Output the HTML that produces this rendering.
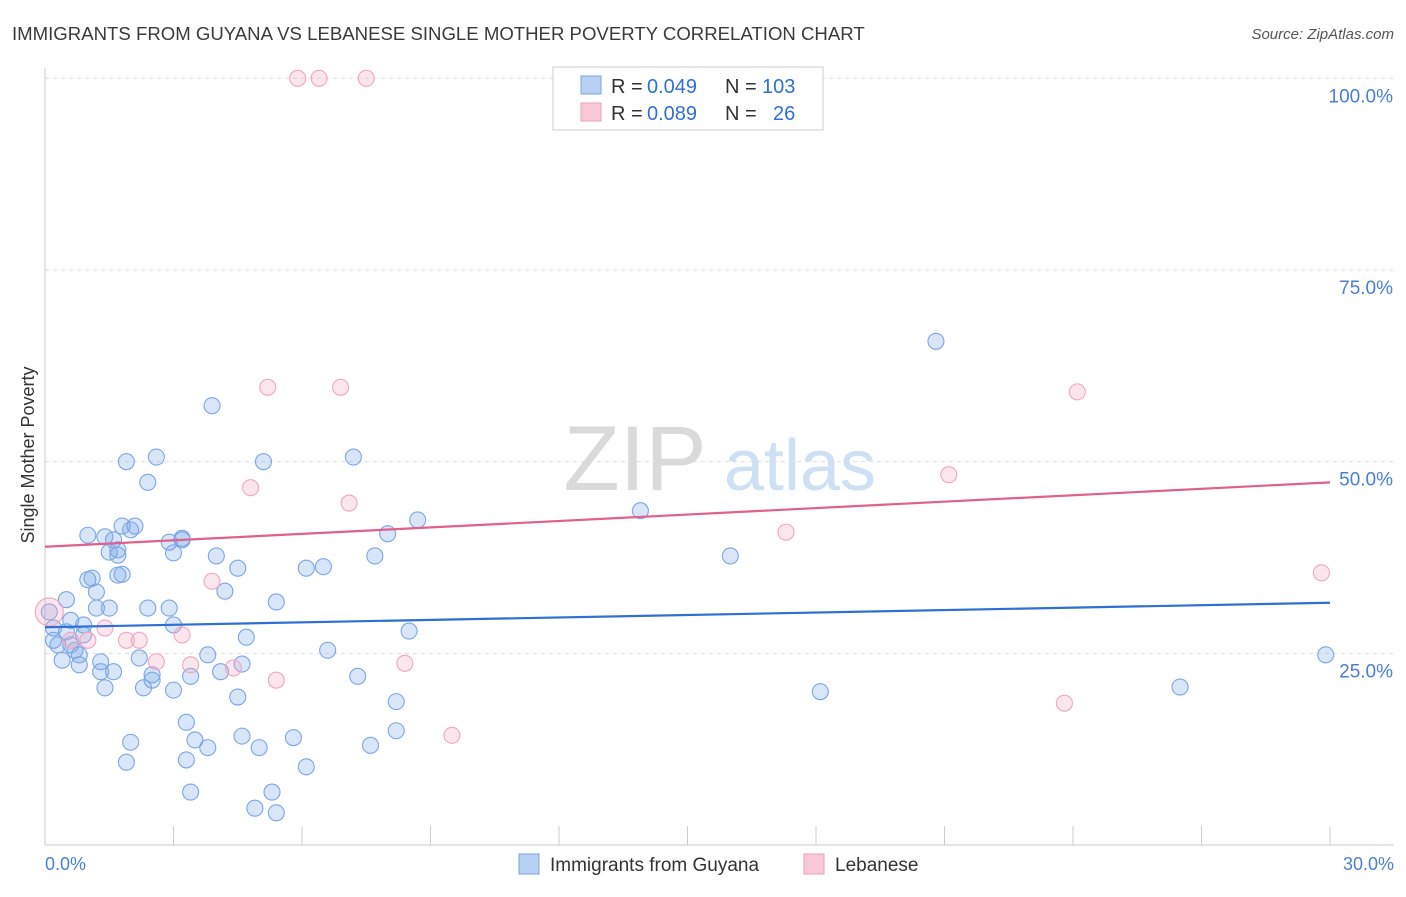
<!DOCTYPE html>
<html><head><meta charset="utf-8"><style>
body{margin:0;background:#fff;font-family:"Liberation Sans",sans-serif}
svg text{font-family:"Liberation Sans",sans-serif}
</style></head><body>
<svg id="chart" width="1406" height="892" viewBox="0 0 1406 892" xmlns="http://www.w3.org/2000/svg">
<text x="12" y="40" font-size="18.6" fill="#3a3a3a">IMMIGRANTS FROM GUYANA VS LEBANESE SINGLE MOTHER POVERTY CORRELATION CHART</text>
<text x="1394" y="39" font-size="15" fill="#555" text-anchor="end" font-style="italic">Source: ZipAtlas.com</text>
<text transform="translate(34,455) rotate(-90)" font-size="18" fill="#333" text-anchor="middle">Single Mother Poverty</text>
<g>
<text x="635" y="490" font-size="92" fill="#dadada" text-anchor="middle" font-family="Liberation Serif,serif">ZIP</text>
<text x="800" y="490" font-size="72" fill="#cde0f4" text-anchor="middle">atlas</text>
</g>
<g id="grid"></g><g id="ticks"></g>
<line x1="45" y1="845" x2="1394" y2="845" stroke="#ccc"/>
<line x1="45" y1="68" x2="45" y2="845" stroke="#ccc"/>
<g id="pts"></g><g id="lines"></g>
<g>
<rect x="553" y="67" width="270" height="63" fill="#fff" stroke="#ccc"/>
<rect x="581" y="76" width="20" height="18" fill="#b7d0f3" stroke="#7aa6e3"/>
<rect x="581" y="103" width="20" height="18" fill="#f9c9d8" stroke="#ee9fba"/>
<text y="93" font-size="20" fill="#333"><tspan x="611">R =</tspan><tspan x="647" fill="#2f6fd6">0.049</tspan><tspan x="725">N =</tspan><tspan x="762" fill="#2f6fd6">103</tspan></text>
<text y="120" font-size="20" fill="#333"><tspan x="611">R =</tspan><tspan x="647" fill="#2f6fd6">0.089</tspan><tspan x="725">N =</tspan><tspan x="773" fill="#2f6fd6">26</tspan></text>
</g>
<text x="45" y="870" font-size="18" fill="#4a7fd6">0.0%</text>
<text x="1394" y="870" font-size="18" fill="#4a7fd6" text-anchor="end">30.0%</text>
<g>
<rect x="519" y="854" width="20" height="20" fill="#b7d0f3" stroke="#7aa6e3"/>
<text x="550" y="871" font-size="19" fill="#333">Immigrants from Guyana</text>
<rect x="804" y="854" width="20" height="20" fill="#f9c9d8" stroke="#ee9fba"/>
<text x="835" y="871" font-size="19" fill="#333">Lebanese</text>
</g>
</svg>
<script>
const yTicks=[25,50,75,100];
const yTickLabels=["25.0%","50.0%","75.0%","100.0%"];
const xTicks=[0,3,6,9,12,15,18,21,24,27,30];
const blueX=[0.1,0.2,0.2,0.3,0.4,0.5,0.5,0.6,0.6,0.7,0.8,0.8,0.9,0.9,1.0,1.0,1.1,1.2,1.2,1.3,1.3,1.4,1.4,1.5,1.5,1.6,1.6,1.7,1.7,1.7,1.8,1.8,1.9,1.9,2.0,2.0,2.1,2.2,2.3,2.4,2.4,2.5,2.5,2.6,2.9,2.9,3.0,3.0,3.0,3.2,3.2,3.3,3.3,3.4,3.4,3.5,3.8,3.8,3.9,4.0,4.1,4.2,4.5,4.5,4.6,4.6,4.7,4.9,5.0,5.1,5.3,5.4,5.4,5.8,6.1,6.1,6.5,6.6,7.2,7.3,7.6,7.7,8.0,8.2,8.2,8.5,8.7,13.9,16.0,18.1,20.8,26.5,29.9];
const blueY=[30.4,28.3,26.7,26.1,24.1,27.8,32.0,26.1,29.3,25.4,24.8,23.5,27.4,28.7,40.4,34.6,34.8,33.0,30.9,23.9,22.6,20.5,40.2,38.2,30.9,39.8,22.6,38.5,35.2,37.8,35.3,41.6,10.8,50.0,13.4,41.1,41.6,24.4,20.5,30.9,47.3,21.5,22.2,50.6,39.5,30.9,28.7,20.2,38.1,40.0,39.8,16.0,11.1,6.9,22.0,13.7,24.8,12.7,57.3,37.7,22.6,33.1,19.3,36.1,14.2,23.6,27.1,4.8,12.7,50.0,6.9,31.7,4.2,14.0,10.2,36.1,36.3,25.4,50.6,22.0,13.0,37.7,40.6,18.7,14.9,27.9,42.4,43.6,37.7,20.0,65.7,20.6,24.8];
const pinkX=[5.9,6.4,7.5,5.2,6.9,4.8,7.1,3.9,3.2,1.9,2.2,1.4,1.0,3.4,4.4,2.6,5.4,8.4,9.5,17.3,21.1,24.1,23.8,29.8,0.1,0.6];
const pinkY=[100,100,100,59.7,59.7,46.6,44.6,34.4,27.4,26.7,26.7,28.3,26.7,23.5,23.1,23.9,21.5,23.7,14.3,40.8,48.3,59.1,18.5,35.5,30.4,26.7];
const blueTrend=[28.4,31.6];
const pinkTrend=[38.9,47.3];
const NS="http://www.w3.org/2000/svg";
const sx=v=>45+v/30*1285;
const sy=v=>845-v/100*766.7;
function mk(tag,attrs,parent){const e=document.createElementNS(NS,tag);for(const k in attrs)e.setAttribute(k,attrs[k]);document.getElementById(parent).appendChild(e);return e;}
yTicks.forEach((t,i)=>{
 const g=mk('line',{x1:45,x2:1394,y1:sy(t),y2:sy(t),stroke:'#ddd','stroke-dasharray':'4,4'},'grid');
 
 
 const l=mk('text',{x:1393,y:sy(t)+24,'font-size':19,fill:'#4a7fd6','text-anchor':'end'},'grid');
 l.textContent=yTickLabels[i];
 
 
});
xTicks.forEach(t=>{
 const l=mk('line',{x1:sx(t),x2:sx(t),y1:826,y2:845,stroke:'#ccc'},'ticks');
 
 
});
blueX.forEach((x,i)=>{
 const c=mk('circle',{cx:sx(x),cy:sy(blueY[i]),r:8,fill:'rgba(120,165,232,0.28)',stroke:'#7aa6e6','stroke-width':1.1},'pts');
 
 
});
pinkX.forEach((x,i)=>{
 const c=mk('circle',{cx:sx(x),cy:sy(pinkY[i]),r:i==24?14:8,fill:'rgba(244,165,195,0.28)',stroke:'#f0a6c0','stroke-width':1.1},'pts');
 
 
});
const bl=mk('line',{x1:sx(0),x2:sx(30),y1:sy(blueTrend[0]),y2:sy(blueTrend[1]),stroke:'#2f6fd6','stroke-width':2.2},'lines');


const pl=mk('line',{x1:sx(0),x2:sx(30),y1:sy(pinkTrend[0]),y2:sy(pinkTrend[1]),stroke:'#e0608e','stroke-width':2.2},'lines');


</script>
</body></html>
